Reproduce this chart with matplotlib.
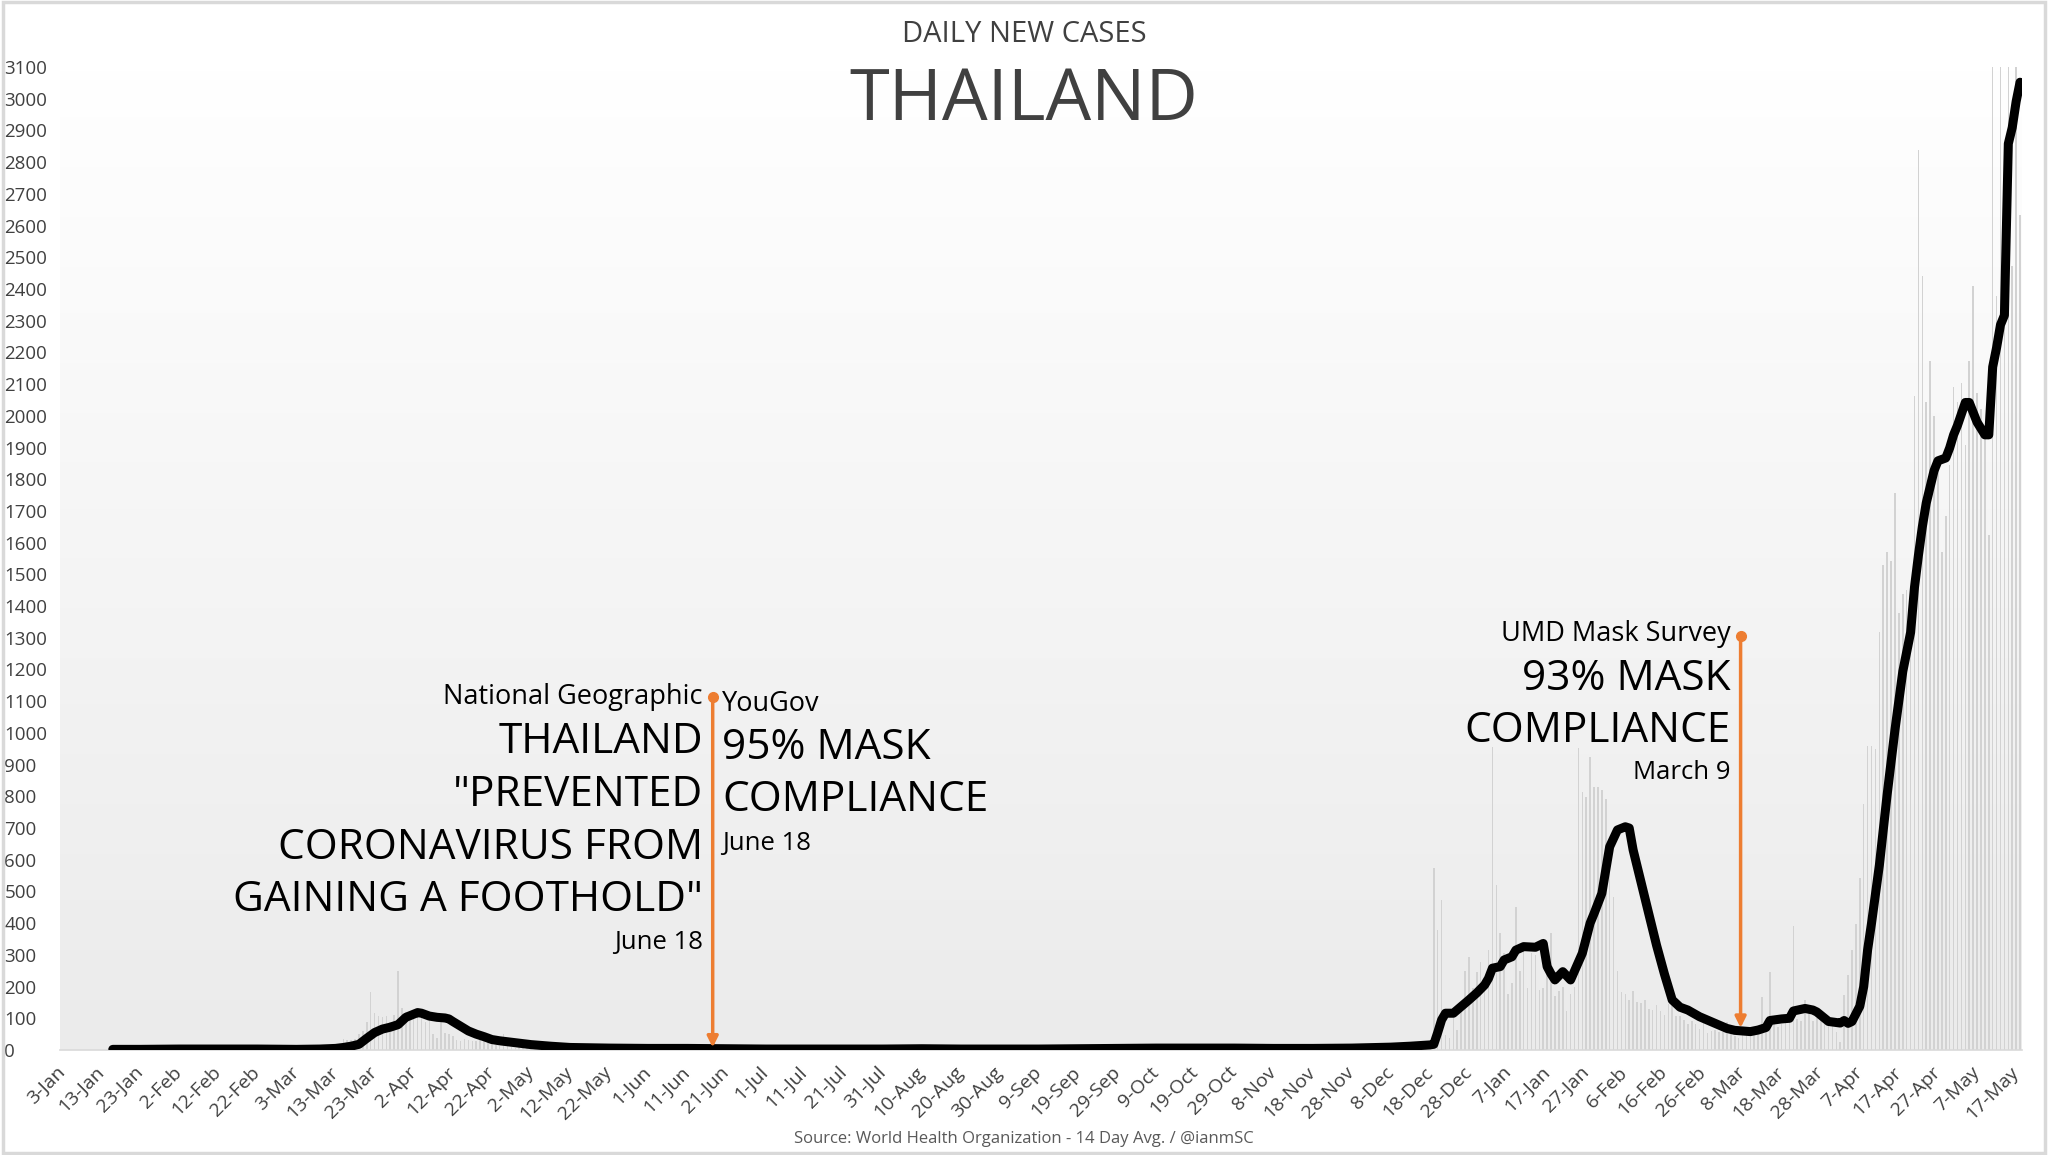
import numpy as np
import matplotlib
matplotlib.use("Agg")
import matplotlib.pyplot as plt
from matplotlib.colors import LinearSegmentedColormap
from matplotlib.patches import Rectangle

plt.rcParams['font.family'] = ['Open Sans', 'DejaVu Sans']

# x axis: one category per day, day 0 = 3-Jan-2020, labels every 10 days
tick_labels = ['3-Jan', '13-Jan', '23-Jan', '2-Feb', '12-Feb', '22-Feb', '3-Mar', '13-Mar',
               '23-Mar', '2-Apr', '12-Apr', '22-Apr', '2-May', '12-May', '22-May', '1-Jun',
               '11-Jun', '21-Jun', '1-Jul', '11-Jul', '21-Jul', '31-Jul', '10-Aug', '20-Aug',
               '30-Aug', '9-Sep', '19-Sep', '29-Sep', '9-Oct', '19-Oct', '29-Oct', '8-Nov',
               '18-Nov', '28-Nov', '8-Dec', '18-Dec', '28-Dec', '7-Jan', '17-Jan', '27-Jan',
               '6-Feb', '16-Feb', '26-Feb', '8-Mar', '18-Mar', '28-Mar', '7-Apr', '17-Apr',
               '27-Apr', '7-May', '17-May']

# daily new cases (grey bars), ten days per row
daily_cases = [
    0, 0, 0, 0, 0, 0, 0, 0, 0, 0,
    1, 0, 0, 1, 0, 0, 0, 0, 0, 2,
    1, 0, 0, 0, 1, 3, 0, 0, 6, 0,
    0, 0, 6, 0, 0, 0, 0, 0, 0, 0,
    0, 0, 0, 0, 0, 0, 0, 0, 0, 1,
    0, 0, 0, 0, 2, 2, 0, 1, 0, 1,
    1, 0, 0, 4, 1, 4, 2, 0, 11, 0,
    5, 7, 34, 32, 30, 35, 52, 60, 89, 184,
    118, 107, 104, 107, 89, 109, 250, 131, 121, 110,
    120, 104, 103, 89, 102, 51, 38, 111, 54, 50,
    45, 33, 28, 34, 30, 29, 28, 33, 32, 27,
    19, 15, 13, 52, 15, 9, 7, 9, 7, 6,
    6, 18, 3, 1, 18, 4, 1, 0, 8, 7,
    5, 2, 1, 3, 6, 3, 7, 0, 1, 3,
    3, 1, 2, 2, 1, 11, 8, 3, 1, 2,
    0, 1, 2, 1, 7, 1, 0, 0, 1, 2,
    3, 4, 0, 0, 5, 1, 0, 0, 0, 3,
    1, 2, 0, 0, 1, 0, 0, 2, 5, 0,
    1, 2, 0, 0, 0, 1, 3, 0, 1, 0,
    0, 6, 1, 0, 2, 0, 1, 0, 0, 3,
    2, 0, 0, 1, 0, 1, 5, 3, 0, 1,
    3, 0, 1, 0, 0, 0, 1, 1, 2, 5,
    3, 5, 0, 0, 1, 7, 0, 1, 2, 0,
    2, 1, 1, 4, 0, 1, 1, 2, 1, 3,
    2, 2, 1, 1, 3, 2, 1, 0, 0, 5,
    6, 2, 1, 3, 1, 1, 5, 2, 0, 2,
    4, 5, 3, 0, 0, 10, 3, 4, 2, 1,
    7, 3, 7, 2, 10, 5, 2, 2, 3, 6,
    3, 9, 6, 2, 8, 4, 3, 7, 5, 2,
    8, 8, 2, 4, 7, 10, 4, 7, 2, 1,
    4, 2, 10, 9, 4, 2, 8, 1, 2, 5,
    6, 5, 3, 3, 3, 5, 7, 7, 3, 5,
    7, 10, 5, 3, 6, 3, 4, 8, 6, 5,
    3, 9, 6, 5, 9, 13, 14, 10, 5, 7,
    13, 3, 7, 17, 10, 18, 10, 7, 28, 15,
    20, 573, 378, 473, 46, 37, 110, 64, 121, 250,
    294, 194, 247, 279, 216, 315, 957, 520, 368, 305,
    178, 212, 452, 249, 339, 194, 305, 301, 188, 197,
    339, 369, 171, 187, 198, 123, 176, 198, 951, 815,
    799, 925, 830, 830, 820, 793, 578, 484, 250, 184,
    178, 158, 187, 151, 147, 159, 130, 125, 143, 124,
    111, 145, 181, 106, 108, 96, 82, 92, 83, 67,
    84, 54, 60, 64, 57, 56, 88, 50, 43, 38,
    70, 68, 47, 63, 57, 168, 70, 247, 101, 74,
    83, 90, 88, 392, 97, 90, 158, 121, 92, 100,
    98, 84, 104, 89, 58, 26, 173, 235, 316, 398,
    541, 776, 959, 959, 949, 1317, 1531, 1572, 1541, 1756,
    1378, 1439, 1450, 1460, 2062, 2838, 2440, 2042, 2174, 2000,
    1867, 1572, 1684, 1846, 2092, 2042, 2103, 1909, 2174, 2409,
    2072, 2021, 1940, 1623, 4900, 2378, 3300, 2440, 9600, 2471,
    3500, 2634,
]

# 14 day average (black line), read at these days
avg_days = [13, 20, 30, 40, 50, 60, 66, 70, 72, 74, 76, 78, 80, 82, 84, 86, 88, 90, 91, 92,
            94, 96, 98, 99, 100, 102, 104, 106, 108, 110, 112, 114, 116, 120, 125, 130, 135,
            140, 150, 160, 170, 180, 190, 200, 210, 220, 230, 240, 250, 260, 270, 280, 290,
            300, 310, 320, 330, 340, 345, 350, 351, 352, 353, 354, 356, 358, 360, 362, 364,
            365, 366, 368, 369, 371, 372, 374, 377, 379, 380, 381, 382, 384, 386, 389, 391,
            392, 394, 396, 398, 400, 401, 402, 404, 406, 408, 410, 412, 414, 416, 419, 422,
            424, 426, 428, 430, 432, 434, 436, 437, 440, 442, 443, 446, 448, 449, 450, 452,
            455, 456, 457, 458, 460, 461, 462, 463, 465, 467, 469, 471, 473, 474, 475, 476,
            477, 479, 480, 482, 483, 484, 485, 487, 488, 490, 492, 493, 494, 495, 496, 497,
            498, 499, 500, 501]
avg_values = [2, 2, 3, 3, 3, 2, 3, 5, 8, 12, 18, 37, 55, 66, 72, 80, 103, 113, 118, 116,
              107, 103, 101, 98, 90, 75, 60, 50, 42, 33, 29, 26, 23, 17, 12, 8, 7,
              6, 5, 5, 4, 3, 3, 3, 3, 4, 3, 3, 3, 4, 5, 6, 6,
              6, 5, 5, 6, 9, 12, 16, 18, 55, 95, 116, 116, 137, 158, 180, 205,
              226, 258, 263, 284, 294, 315, 326, 324, 336, 263, 240, 221, 247, 221, 305, 400,
              430, 494, 641, 694, 704, 700, 631, 530, 430, 330, 240, 158, 135, 126, 105, 89,
              78, 68, 62, 60, 58, 63, 71, 93, 98, 100, 123, 131, 126, 120, 110, 90,
              85, 93, 84, 90, 138, 200, 316, 400, 582, 806, 1010, 1194, 1317, 1460, 1560, 1650,
              1725, 1827, 1858, 1867, 1899, 1940, 1970, 2042, 2042, 1980, 1940, 1940, 2154, 2215, 2287, 2317,
              2858, 2909, 2991, 3052]

y_ticks = list(range(0, 3101, 100))

orange = '#ED7D31'
dark = '#404040'

fig = plt.figure(figsize=(20.48, 11.55), dpi=100)
fig.patch.set_facecolor('white')
ax = fig.add_axes([60 / 2048, 105 / 1155, 1962 / 2048, 983 / 1155])

n_days = len(daily_cases)
x_lo, x_hi = -0.5, n_days - 0.5

# soft vertical gradient in the plot area
grad = np.linspace(0, 1, 256).reshape(-1, 1)
bg = LinearSegmentedColormap.from_list('bg', ['#ffffff', '#ebebeb'])
ax.imshow(grad, extent=[x_lo, x_hi, 0, 3100], aspect='auto', cmap=bg, zorder=0)

days = np.arange(n_days)
ax.bar(days, daily_cases, width=0.4, color='#d2d2d2', zorder=1)
ax.plot(avg_days, avg_values, color='black', lw=6.5, solid_joinstyle='round',
        solid_capstyle='round', zorder=4)

ax.set_xlim(x_lo, x_hi)
ax.set_ylim(0, 3100)
for s in ['top', 'right', 'left']:
    ax.spines[s].set_visible(False)
ax.spines['bottom'].set_color('#d9d9d9')
ax.spines['bottom'].set_linewidth(1.2)

ax.set_yticks(y_ticks)
ax.set_yticklabels([str(v) for v in y_ticks], fontsize=13.5, color=dark)
ax.tick_params(axis='y', length=0, pad=40)
for lab in ax.get_yticklabels():
    lab.set_ha('left')

ax.set_xticks(np.arange(0, 10 * len(tick_labels), 10))
ax.set_xticklabels(tick_labels, rotation=45, ha='right', va='center',
                   rotation_mode='anchor', fontsize=14, color=dark)
ax.tick_params(axis='x', length=0, pad=14)

# annotation arrows
def marker(x, top, bottom):
    ax.annotate('', xy=(x, bottom), xytext=(x, top),
                arrowprops=dict(arrowstyle='-|>', color=orange, lw=2.5,
                                mutation_scale=16, shrinkA=0, shrinkB=0), zorder=5)
    ax.plot([x], [top], 'o', color=orange, ms=7, zorder=5)

marker(166.5, 1113, 8)
marker(429.5, 1307, 70)

txt = dict(color='black', zorder=6)
ax.text(164, 1112, 'National Geographic', ha='right', va='center', fontsize=19.5, **txt)
for t, y in zip(['THAILAND', '"PREVENTED', 'CORONAVIRUS FROM', 'GAINING A FOOTHOLD"'],
                [970, 805, 638, 472]):
    ax.text(164, y, t, ha='right', va='center', fontsize=30.5, **txt)
ax.text(164, 338, 'June 18', ha='right', va='center', fontsize=18.5, **txt)

ax.text(169, 1092, 'YouGov', ha='left', va='center', fontsize=19.5, **txt)
ax.text(169, 952, '95% MASK', ha='left', va='center', fontsize=30.5, **txt)
ax.text(169, 787, 'COMPLIANCE', ha='left', va='center', fontsize=30.5, **txt)
ax.text(169, 651, 'June 18', ha='left', va='center', fontsize=18.5, **txt)

ax.text(427, 1311, 'UMD Mask Survey', ha='right', va='center', fontsize=19.5, **txt)
ax.text(427, 1171, '93% MASK', ha='right', va='center', fontsize=30.5, **txt)
ax.text(427, 1006, 'COMPLIANCE', ha='right', va='center', fontsize=30.5, **txt)
ax.text(427, 874, 'March 9', ha='right', va='center', fontsize=18.5, **txt)

fig.text(0.5, 1 - 35 / 1155, 'DAILY NEW CASES', ha='center', va='center',
         fontsize=21, color=dark)
fig.text(0.5, 1 - 101 / 1155, 'THAILAND', ha='center', va='center',
         fontsize=52, color=dark)
fig.text(0.5, 1 - 1139 / 1155, 'Source: World Health Organization - 14 Day Avg. / @ianmSC',
         ha='center', va='center', fontsize=12, color='#595959')

fig.patches.append(Rectangle((0.0015, 0.002), 0.997, 0.996, transform=fig.transFigure,
                             fill=False, ec='#d9d9d9', lw=2.5))

fig.savefig('out.png', dpi=100)
